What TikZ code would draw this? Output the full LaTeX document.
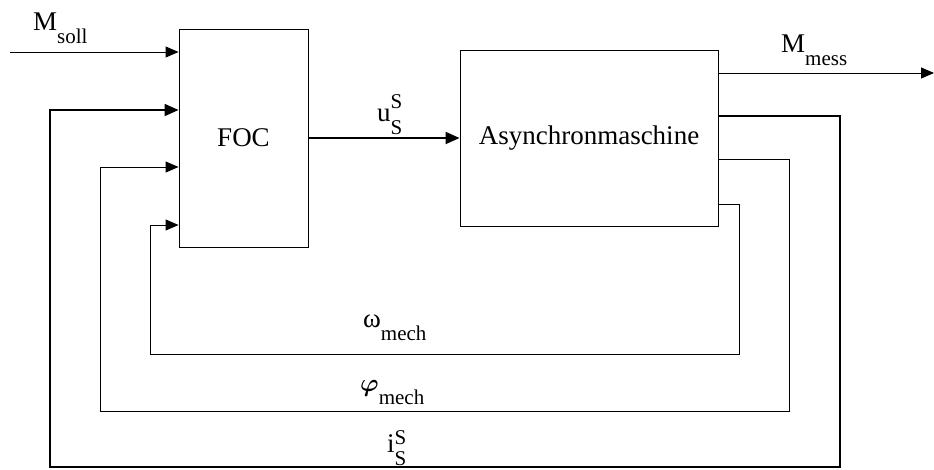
\documentclass[tikz,border=0pt]{standalone}
\usepackage{amsmath}
\usepackage{fontspec}
\setmainfont{Liberation Serif}
\usetikzlibrary{arrows.meta}
\newcommand{\subfnt}{\fontsize{21}{21}\selectfont}
\newcommand{\lowsub}[2]{#1\raisebox{-13pt}{\subfnt #2}}
\newcommand{\lowsubsup}[4][13pt]{#2\rlap{\raisebox{#1}{\subfnt #4}}\raisebox{-13pt}{\subfnt #3}}
\tikzset{
  block/.style={draw, line width=0.9pt, inner sep=0pt},
  sig/.style={line width=0.9pt, -{Triangle[length=13pt,width=11pt]}},
  bus/.style={line width=1.8pt, -{Triangle[length=14pt,width=12pt]}},
}
\begin{document}
\begin{tikzpicture}[x=1pt, y=-1pt, font=\fontsize{27}{30}\selectfont]
    \useasboundingbox (0,0) rectangle (934,469);
    % Bloecke
    \node[block, minimum width=129pt, minimum height=218pt] (foc) at (243.5,138) {FOC};
    \node[block, minimum width=258pt, minimum height=176pt] (asm) at (589,138) {Asynchronmaschine};
    % Ein- und Ausgaenge
    \coordinate (soll) at (10,52);
    \coordinate (in1) at (foc.west |- 0,52);
    \coordinate (in2) at (foc.west |- 0,110);
    \coordinate (in3) at (foc.west |- 0,167);
    \coordinate (in4) at (foc.west |- 0,225);
    \coordinate (out1) at (asm.east |- 0,73);
    \coordinate (out2) at (asm.east |- 0,116);
    \coordinate (out3) at (asm.east |- 0,159);
    \coordinate (out4) at (asm.east |- 0,204);
    \coordinate (mess) at (934,73);
    \draw[sig] (soll) -- (in1);
    \draw[bus] (foc.east) -- (asm.west);
    \draw[sig] (out1) -- (mess);
    % Rueckfuehrungen
    \draw[bus] (out2) -| (840,467) -| (50,110) -- (in2);
    \draw[sig] (out3) -| (789,411) -| (100,167) -- (in3);
    \draw[sig] (out4) -| (739,354) -| (150,225) -- (in4);
    % Beschriftungen
    \node[anchor=base west, inner sep=0pt] (lsoll) at (33,30) {\lowsub{M}{soll}};
    \node[anchor=base west, inner sep=0pt] (lmess) at (781,52) {\lowsub{M}{mess}};
    \node[anchor=base west, inner sep=0pt] (lu) at (377,121) {\lowsubsup{u}{S}{S}};
    \node[anchor=base west, inner sep=0pt] (lomega) at (363,327) {\lowsub{ω}{mech}};
    \node[anchor=base west, inner sep=0pt] (lphi) at (360,391) {\lowsub{{\fontsize{34}{34}\selectfont$\boldsymbol{\varphi}$}}{mech}};
    \node[anchor=base west, inner sep=0pt] (li) at (387,452) {\lowsubsup[8pt]{i}{S}{S}};
\end{tikzpicture}
\end{document}
